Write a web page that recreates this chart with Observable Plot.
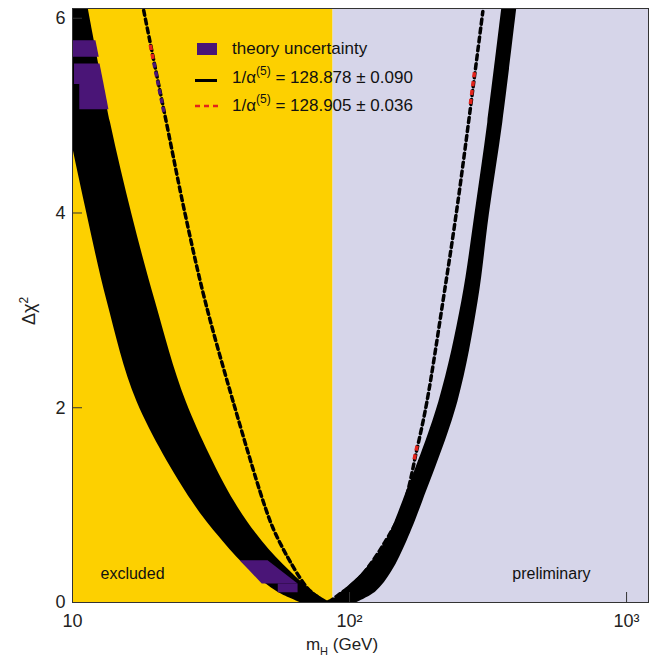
<!DOCTYPE html>
<html><head><meta charset="utf-8">
<script src="https://cdn.jsdelivr.net/npm/d3@7"></script>
<script src="https://cdn.jsdelivr.net/npm/@observablehq/plot@0.6"></script>
<style>body{margin:0;background:#fff;} #chart{width:654px;height:665px;}</style>
</head><body><div id="chart"></div>
<script>
const FONT = "Liberation Sans, Arial, Helvetica, sans-serif";
const YELLOW = "#fdd000";
const LAVENDER = "#d6d5e9";
const PURPLE = "#4a1577";
const RED = "#e3231b";
const DASH = 5, GAP = 4;

const xDomain = [10, 1200];
const yDomain = [0, 6.1];
const xTicks = [10, 100, 1000];
const xTickLabels = ["10", "10²", "10³"];
const yTicks = [0, 2, 4, 6];
const excludedLimit = 87.2;

// black band (1/α = 128.878 ± 0.090) edges at common Δχ² levels
const bandLevels = [6.1, 4.93, 3.98, 3.09, 2.06, 1.04, 0.63, 0.32, 0.11, 0];
const leftOuter  = [7.9, 9.59, 11.30, 13.34, 17.11, 27.01, 34.89, 44.16, 54.80, 66.33];
const leftInner  = [11.40, 13.71, 16.41, 19.91, 25.75, 38.35, 48.38, 61.06, 73.86, 85.06];
const rightInner = [354.5, 315.6, 283.4, 254.3, 210.1, 155.9, 135.3, 112.8, 94.0, 85.06];
const rightOuter = [401.5, 357.5, 319.5, 291.2, 246.0, 184.0, 161.2, 142.3, 124.6, 106.4];

// theory uncertainty cells
const purplePiece = ["a","a","b","b","c","c","d","d","e","e"];
const purpleY     = [5.77, 5.60, 5.53, 5.32, 5.32, 5.06, 0.43, 0.19, 0.19, 0.10];
const purpleX1    = [10.0, 10.0, 10.17, 10.17, 10.62, 10.62, 40.3, 48.4, 55.3, 55.3];
const purpleX2    = [12.15, 12.49, 12.57, 13.0, 13.0, 13.54, 50.8, 65.2, 65.2, 65.2];

// dashed curve (1/α = 128.905 ± 0.036)
const dashM   = [18.07, 21.82, 25.54, 30.15, 38.03, 48.78, 53.01, 57.59, 61.06, 66.33, 70.87, 76.36, 81.6, 92.4, 109.1, 134.2, 155.9, 175.3, 190.2, 217.3, 246.0, 302.8];
const dashChi = [6.08, 4.93, 3.98, 3.09, 2.06, 1.04, 0.76, 0.55, 0.42, 0.25, 0.14, 0.06, 0.0, 0.09, 0.26, 0.62, 0.98, 1.58, 2.06, 3.09, 4.11, 6.07];
// Δχ² ranges where the dashes of that curve are coloured (branch, from, to, colour)
const dashColourBranch = ["left", "left", "left", "left", "right", "right"];
const dashColourFrom   = [5.58, 5.02, 0.31, 0.21, 5.10, 1.40];
const dashColourTo     = [5.78, 5.55, 0.36, 0.28, 5.50, 1.62];
const dashColourFill   = [RED, PURPLE, PURPLE, RED, RED, RED];

const band = bandLevels.map((y, i) => ({y, lo: leftOuter[i], li: leftInner[i], ri: rightInner[i], ro: rightOuter[i]}));
const purple = purpleY.map((y, i) => ({piece: purplePiece[i], y, x1: purpleX1[i], x2: purpleX2[i]}));
const dash = dashM.map((m, i) => ({m, chi: dashChi[i]}));
const regions = [
  {a: xDomain[0], b: excludedLimit, fill: YELLOW},
  {a: excludedLimit, b: xDomain[1], fill: LAVENDER}
];

const plot = Plot.plot({
  width: 654,
  height: 665,
  marginLeft: 72,
  marginRight: 6,
  marginTop: 8,
  marginBottom: 63,
  style: {fontFamily: FONT, background: "white"},
  x: {type: "log", domain: xDomain},
  y: {domain: yDomain},
  marks: [
    Plot.rect(regions, {x1: "a", x2: "b", fill: d => d.fill}),
    Plot.areaX(band, {y: "y", x1: "lo", x2: "li", fill: "black", curve: "catmull-rom", clip: true}),
    Plot.areaX(band, {y: "y", x1: "ri", x2: "ro", fill: "black", curve: "catmull-rom", clip: true}),
    Plot.areaX(purple, {y: "y", x1: "x1", x2: "x2", z: "piece", fill: PURPLE, clip: true}),
    Plot.line(dash, {x: "m", y: "chi", stroke: "black", strokeWidth: 3.5, strokeDasharray: `${DASH},${GAP}`, curve: "catmull-rom", clip: true}),
    Plot.text(["excluded"], {frameAnchor: "bottom-left", dx: 28, dy: -24, textAnchor: "start", fontSize: 16, fill: "#111"}),
    Plot.text(["preliminary"], {frameAnchor: "bottom-right", dx: -58, dy: -24, textAnchor: "end", fontSize: 16, fill: "#111"}),
    Plot.frame({stroke: "#333", strokeWidth: 1}),
    Plot.axisY({ticks: yTicks, tickFormat: "d", tickSize: -10, tickPadding: 17, fontSize: 18, label: null, stroke: "#333", color: "#222"}),
    Plot.axisX({ticks: xTicks, tickFormat: d => xTickLabels[xTicks.indexOf(d)], tickSize: -10, tickPadding: 22, fontSize: 18, label: null, stroke: "#333", color: "#222"})
  ]
});
document.getElementById("chart").appendChild(plot);

const svg = d3.select(plot);

// colour individual dashes of the dashed curve (same phase as the black dashes)
try {
  const g = svg.select('g[aria-label="line"]');
  const path = g.select("path").node();
  if (path && path.getTotalLength) {
    const L = path.getTotalLength();
    const P = DASH + GAP;
    const ys = plot.scale("y"), xs = plot.scale("x");
    const xMin = xs.apply(dashM[dashChi.indexOf(Math.min(...dashChi))]);
    const starts = {};
    for (let s = 0; s < L; s += P) {
      const p = path.getPointAtLength(Math.min(s + DASH / 2, L));
      const chi = ys.invert(p.y);
      const branch = p.x < xMin ? "left" : "right";
      dashColourFill.forEach((c, i) => {
        if (dashColourBranch[i] === branch && chi >= dashColourFrom[i] && chi <= dashColourTo[i]) {
          (starts[c] = starts[c] || []).push(s);
        }
      });
    }
    Object.entries(starts).forEach(([c, arr]) => {
      const pattern = [0];
      let pos = 0;
      arr.forEach(s => { pattern.push(s - pos, DASH); pos = s + DASH; });
      pattern.push(L + 10);
      g.append("path").attr("d", path.getAttribute("d"))
        .attr("fill", "none").attr("stroke", c).attr("stroke-width", 3.5)
        .attr("stroke-dasharray", pattern.join(","));
    });
  }
} catch (e) { console.error(e); }

// axis titles
const yl = svg.append("text").attr("transform", "translate(35,311) rotate(-90)")
  .attr("text-anchor", "middle").attr("font-family", FONT).attr("font-size", 18).attr("fill", "#222");
yl.append("tspan").text("Δχ");
yl.append("tspan").attr("font-size", 12).attr("dy", -7).text("2");
const xl = svg.append("text").attr("x", 342).attr("y", 650)
  .attr("text-anchor", "middle").attr("font-family", FONT).attr("font-size", 17).attr("fill", "#222");
xl.append("tspan").text("m");
xl.append("tspan").attr("font-size", 11).attr("dy", 5).text("H");
xl.append("tspan").attr("dy", -5).text(" (GeV)");

// legend
const lg = svg.append("g").attr("font-family", FONT).attr("font-size", 17).attr("fill", "#111").attr("text-anchor", "start");
lg.append("rect").attr("x", 197).attr("y", 43).attr("width", 20).attr("height", 12).attr("fill", PURPLE);
lg.append("text").attr("x", 232).attr("y", 54).text("theory uncertainty");
lg.append("line").attr("x1", 195).attr("x2", 217).attr("y1", 80.5).attr("y2", 80.5).attr("stroke", "black").attr("stroke-width", 3);
const entries = [["128.878 ± 0.090", 83], ["128.905 ± 0.036", 111]];
entries.forEach(([v, y]) => {
  const t = lg.append("text").attr("x", 232).attr("y", y);
  t.append("tspan").text("1/α");
  t.append("tspan").attr("font-size", 12).attr("dy", -8).text("(5)");
  t.append("tspan").attr("dy", 8).text(" = " + v);
});
lg.append("line").attr("x1", 195).attr("x2", 221).attr("y1", 106).attr("y2", 106).attr("stroke", RED).attr("stroke-width", 2.5).attr("stroke-dasharray", "5,4");
</script>
</body></html>
